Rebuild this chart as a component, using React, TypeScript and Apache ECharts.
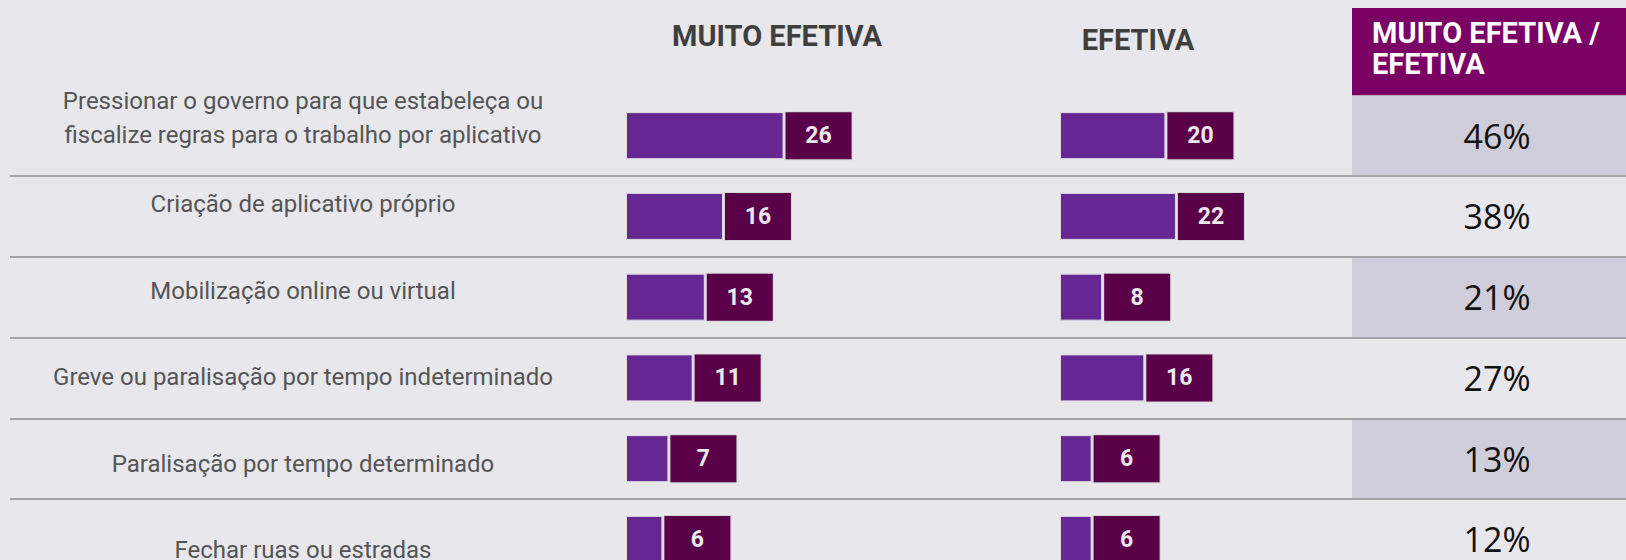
import React, { useEffect, useRef } from "react";
import * as echarts from "echarts";

const categories = [
  "Pressionar o governo para que estabeleça ou\nfiscalize regras para o trabalho por aplicativo",
  "Criação de aplicativo próprio",
  "Mobilização online ou virtual",
  "Greve ou paralisação por tempo indeterminado",
  "Paralisação por tempo determinado",
  "Fechar ruas ou estradas",
];
const muitoEfetiva = [26, 16, 13, 11, 7, 6];
const efetiva = [20, 22, 8, 16, 6, 6];
const totals = [46, 38, 21, 27, 13, 12];
const headerMuito = "MUITO EFETIVA";
const headerEfetiva = "EFETIVA";
const headerTotal = "MUITO EFETIVA /\nEFETIVA";

export default function App() {
  const ref = useRef<HTMLDivElement>(null);

  useEffect(() => {
    document.body.style.margin = "0";
    const chart = echarts.init(ref.current!, null, { renderer: "svg" });

    const rowTop = 95.25;
    const rowH = 80.75;
    const n = categories.length;
    const gridH = rowH * n;

    const hiddenX = (gridIndex: number, max?: number) => ({
      type: "value",
      gridIndex,
      show: false,
      min: 0,
      max,
    });
    const hiddenY = (gridIndex: number) => ({
      type: "category",
      gridIndex,
      data: categories,
      inverse: true,
      axisLine: { show: false },
      axisTick: { show: false },
      axisLabel: { show: false },
      splitLine: { show: false },
    });

    const barLabel = {
      show: true,
      position: "right",
      distance: 2,
      formatter: "{v|{c}}",
      rich: {
        v: {
          width: 66,
          height: 47,
          lineHeight: 47,
          align: "center",
          backgroundColor: "#5a0048",
          borderColor: "#d6d5db",
          borderWidth: 1,
          color: "#ece8f0",
          fontSize: 23,
          fontWeight: "bold",
          fontFamily: "Roboto",
        },
      },
    };
    const barItem = {
      color: "#662792",
      borderColor: "#dcdbe1",
      borderWidth: 1,
    };

    const txt = (x: number, y: number, text: string, font: string, fill: string, align: string, lineHeight?: number) => ({
      type: "text",
      x,
      y,
      z: 10,
      style: {
        text,
        font,
        fill,
        align,
        textAlign: align,
        verticalAlign: "middle",
        textVerticalAlign: "middle",
        lineHeight,
      },
    });

    chart.setOption({
      animation: false,
      backgroundColor: "#e8e7ec",
      grid: [
        { left: 10, right: 0, top: rowTop, height: gridH, outerBoundsMode: "none" },
        { left: 303, width: 10, top: 74.25, height: 86.5 * n, outerBoundsMode: "none" },
        { left: 626, width: 303, top: rowTop, height: gridH, outerBoundsMode: "none" },
        { left: 1060, width: 263.5, top: rowTop, height: gridH, outerBoundsMode: "none" },
        { left: 1352, right: 0, top: rowTop, height: gridH, outerBoundsMode: "none" },
      ],
      xAxis: [hiddenX(0, 1), hiddenX(1, 1), hiddenX(2, 50), hiddenX(3, 50), hiddenX(4, 1)],
      yAxis: [
        {
          ...hiddenY(0),
          z: 5,
          splitLine: {
            show: true,
            showMinLine: false,
            interval: 0,
            lineStyle: { color: "#a4a4a8", width: 2 },
          },
        },
        {
          ...hiddenY(1),
          axisLabel: {
            show: true,
            interval: 0,
            margin: 0,
            align: "center",
            fontSize: 24,
            fontFamily: "Roboto",
            color: "#555555",
            lineHeight: 34,
          },
        },
        hiddenY(2),
        hiddenY(3),
        {
          ...hiddenY(4),
          z: 0,
          splitArea: {
            show: true,
            interval: 0,
            areaStyle: { color: ["#cfcdd9", "rgba(0,0,0,0)"] },
          },
          axisLabel: {
            show: true,
            inside: true,
            margin: 145,
            align: "center",
            interval: 0,
            formatter: (_v: string, i: number) => totals[i] + "%",
            fontSize: 34,
            lineHeight: 30,
            fontFamily: "Open Sans",
            color: "#111111",
          },
        },
      ],
      series: [
        {
          type: "bar",
          xAxisIndex: 2,
          yAxisIndex: 2,
          data: muitoEfetiva,
          barWidth: 47,
          itemStyle: barItem,
          label: barLabel,
        },
        {
          type: "bar",
          xAxisIndex: 3,
          yAxisIndex: 3,
          data: efetiva,
          barWidth: 47,
          itemStyle: barItem,
          label: barLabel,
        },
      ],
      graphic: [
        { type: "rect", z: 9, shape: { x: 1352, y: 8, width: 274, height: 87.25 }, style: { fill: "#7a0066" } },
        txt(777, 36, headerMuito, "bold 29px Roboto", "#3f3f3f", "center"),
        txt(1138, 40, headerEfetiva, "bold 29px Roboto", "#3f3f3f", "center"),
        txt(1372, 48.5, headerTotal, "bold 29px Roboto", "#ffffff", "left", 31.5),
      ],
    });

    return () => chart.dispose();
  }, []);

  return <div ref={ref} style={{ width: 1626, height: 560 }} />;
}
